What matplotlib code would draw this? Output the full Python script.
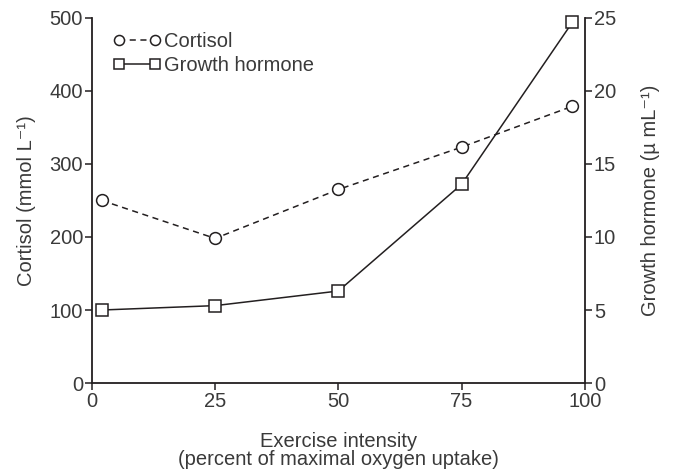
import matplotlib
matplotlib.use("Agg")
import matplotlib.pyplot as plt

plt.rcParams['font.family'] = ['Liberation Sans', 'DejaVu Sans']

intensity = [2, 25, 50, 75, 97.5]
cortisol = [250, 198, 265, 323, 379]
growth_hormone = [5.0, 5.3, 6.3, 13.6, 24.7]

x_ticks = [0, 25, 50, 75, 100]
left_ticks = [0, 100, 200, 300, 400, 500]
right_ticks = [0, 5, 10, 15, 20, 25]

ink = '#231f20'
txt = '#3a3a3a'
fs = 14.5

fig = plt.figure(figsize=(6.76, 4.70), dpi=100)
ax = fig.add_axes([0.136, 0.185, 0.729, 0.777])
ax2 = ax.twinx()

l1, = ax.plot(intensity, cortisol, linestyle=(0, (4, 3)), color=ink, lw=1.1,
              marker='o', markersize=8.5, markerfacecolor='white',
              markeredgecolor=ink, markeredgewidth=1.1, label='Cortisol', clip_on=False)
l2, = ax2.plot(intensity, growth_hormone, linestyle='-', color=ink, lw=1.1,
               marker='s', markersize=8, markerfacecolor='white',
               markeredgecolor=ink, markeredgewidth=1.1, label='Growth hormone', clip_on=False)

ax.set_xlim(0, 100)
ax.set_ylim(0, 500)
ax2.set_ylim(0, 25)
ax.set_xticks(x_ticks)
ax.set_yticks(left_ticks)
ax2.set_yticks(right_ticks)

for a in (ax, ax2):
    a.spines['top'].set_visible(False)
    for s in a.spines.values():
        s.set_color(ink)
        s.set_linewidth(1.3)
    a.tick_params(colors=ink, labelcolor=txt, labelsize=fs, width=1.1, length=5, pad=1.5)
    a.patch.set_visible(False)
ax2.spines['left'].set_visible(False)
ax2.spines['bottom'].set_visible(False)
ax.spines['right'].set_visible(False)

ax.set_ylabel('Cortisol (mmol L\u207b\u00b9)', fontsize=fs, color=txt, labelpad=10)
ax2.set_ylabel('Growth hormone (\u00b5 mL\u207b\u00b9)', fontsize=fs, color=txt, rotation=90, labelpad=18)
ax.set_xlabel('Exercise intensity\n(percent of maximal oxygen uptake)', fontsize=fs, color=txt,
              linespacing=0.95, labelpad=15)

leg = ax.legend(handles=[l1, l2], loc='upper left', bbox_to_anchor=(0.01, 1.005), frameon=False,
                fontsize=fs, handlelength=2.4, handletextpad=0.15, borderpad=0.3,
                labelspacing=0.22, markerscale=0.85, numpoints=2)
for t in leg.get_texts():
    t.set_color(txt)

fig.savefig('out.png', dpi=100)
